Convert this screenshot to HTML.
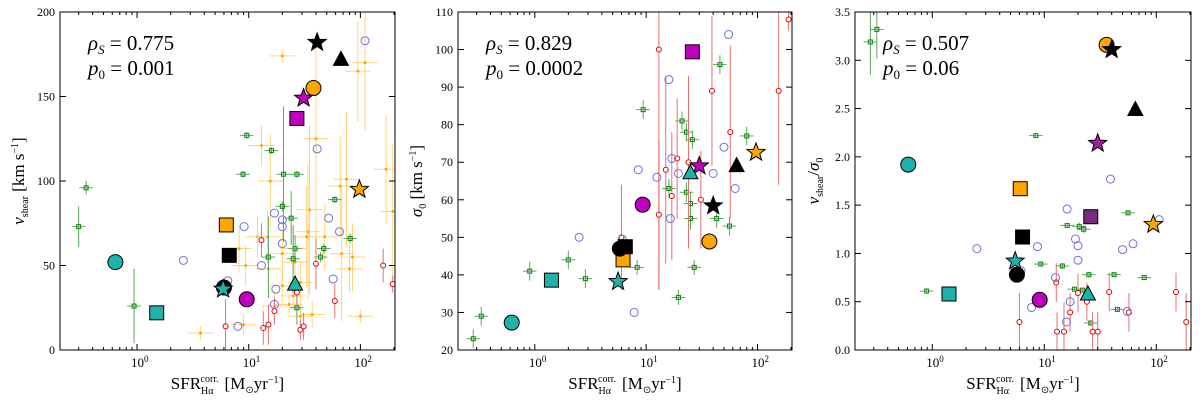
<!DOCTYPE html>
<html><head><meta charset="utf-8"><style>
body{margin:0;background:#fff;width:1200px;height:404px;overflow:hidden}
svg{display:block}
text{font-family:"Liberation Serif",serif;fill:#000}
</style></head><body>
<svg id="chart" width="1200" height="404" viewBox="0 0 1200 404" xmlns="http://www.w3.org/2000/svg"></svg>
<script>
// ---------- DATA ----------
// panel 1: v_shear
const p1Blue=[[110,183],[41,119],[17,81],[20,77],[20,73],[52,78],[65,70],[9.1,73],[2.6,53],[20,63],[13,50],[6.5,41],[57,42],[17.5,36],[17,27],[8,14]];
const p1Red=[[13,65,10],[40,51,15],[160,50,10],[195,39,5],[59,29,10],[17,23,8],[15,15,12],[13.5,13,10],[6.2,14,16],[29,12,6],[31,14,8],[27,34,8]];
const p1Green=[[0.30,73,12],[0.35,96,4],[0.94,26,22],[9.6,127,2],[8.9,104,2],[27,104,2],[16,118,2],[20.5,104,40],[20,85,3],[24,78,16],[15,55,24],[26,60,8],[25,54,20],[44,55,3],[47,60,3],[59,89,2],[81,66,3],[27,25,10]];
const p1Orange=[[20,174,4],[95,165,30],[110,170,40],[40,125,60],[13,121,12],[15.6,100,28],[66,97,30],[75,101,40],[35,83,50],[34,70,40],[33,67,30],[48,67,20],[68,57,40],[85,55,20],[80,48,14],[9.4,50,12],[8.2,60,14],[12,67,12],[14.8,67,16],[15,48,18],[20,57,14],[25,60,12],[26,52,10],[29,40,12],[20,38,10],[25,32,8],[17,26,8],[23,27,6],[29,20,8],[37,21,8],[100,20,4],[3.7,10,4],[9,15,6],[170,107,32],[195,82,40]];
const p1Big=[["star","#000",41,182],["tri","#000",67,172],["circ","#ffa500",38,155],["star","#c000c0",31,149],["sq","#c000c0",27,137],["sq","#ffa500",6.3,74],["sq","#000",6.7,56],["circ","#20b2aa",0.64,52],["sq","#20b2aa",1.5,22],["circ","#000",6.0,37],["star","#20b2aa",5.9,36],["circ","#c000c0",9.6,30],["tri","#20b2aa",26,39],["star","#ffa500",98,95]];
const p1Ticks=[0,50,100,150,200];
// panel 2: sigma_0
const p2Blue=[[55,104],[16,92],[17,71],[50,74],[8.5,68],[12.5,66],[19.5,67],[40,67],[63,63],[16.5,55],[2.5,50],[6.1,49.5],[7.8,30]];
const p2Red=[[13,100,64],[13,56,20],[39,89,20],[57,78,23],[15,68,25],[19,71,16],[17,61,17],[31,60,13],[6,50,14],[155,89,25],[190,108,3],[24,70,23]];
const p2Green=[[9.4,84,2.5],[21,81,2.5],[23,78,2.5],[26,76,2.5],[46,96,2.5],[80,77,2.5],[16,63,2.5],[23,62,2.5],[25,59,3],[25,55,3],[43,55,2.5],[56,53,2.5],[8.3,42,2],[27,42,2],[19.5,34,2],[0.9,41,2.5],[2.0,44,2.5],[2.85,39,2.5],[0.33,29,2.5],[0.28,23,2.5]];
const p2Big=[["sq","#c000c0",26,99.4],["star","#ffa500",97,72.6],["tri","#000",65,69.1],["star","#c000c0",30,69],["tri","#20b2aa",25,67.2],["star","#000",40,58.4],["circ","#c000c0",9.3,58.7],["circ","#ffa500",37,48.9],["sq","#ffa500",6.2,44],["circ","#000",5.8,47],["sq","#000",6.5,47.5],["sq","#20b2aa",1.41,38.6],["star","#20b2aa",5.6,38.2],["circ","#20b2aa",0.62,27.3]];
const p2Ticks=[20,30,40,50,60,70,80,90,100,110];
// panel 3: ratio
const p3Blue=[[39,1.77],[16,1.46],[106,1.35],[19,1.15],[20,1.08],[8.7,1.07],[2.5,1.05],[50,1.04],[62,1.10],[20,0.93],[6.2,0.82],[12.6,0.75],[17,0.50],[7.7,0.44],[15.8,0.29],[55,0.40]];
const p3Red=[[12.8,0.70,0.2],[20,0.59,0.2],[38,0.60,0.2],[150,0.60,0.2],[17,0.39,0.2],[24,0.5,0.2],[57,0.39,0.2],[6,0.29,0.3],[185,0.29,0.3],[13,0.19,0.2],[15,0.19,0.3],[27,0.19,0.2],[30,0.19,0.2]];
const p3Green=[[0.28,3.19,0.34],[0.32,3.32,0.3],[8.4,2.22,0.02],[56,1.42,0.02],[16,1.29,0.02],[20.5,1.28,0.04],[22.5,1.25,0.04],[9.3,0.89,0.02],[14.5,0.87,0.03],[25,0.78,0.03],[42,0.78,0.02],[78,0.75,0.02],[18.6,0.63,0.02],[22,0.62,0.02],[45,0.42,0.02],[26,0.28,0.02],[0.89,0.61,0.03]];
const p3Big=[["circ","#ffa500",36,3.16],["star","#000",40,3.11],["tri","#000",65,2.49],["star","#a020a0",30,2.14],["circ","#20b2aa",0.61,1.92],["sq","#ffa500",6.1,1.67],["sq","#7a2a7a",26,1.38],["star","#ffa500",94,1.30],["sq","#000",6.4,1.17],["circ","#000",5.7,0.78],["star","#20b2aa",5.5,0.92],["sq","#20b2aa",1.41,0.58],["tri","#20b2aa",24.5,0.58],["circ","#c000c0",9.1,0.52]];
const p3Ticks=[0,0.5,1.0,1.5,2.0,2.5,3.0,3.5];
const xTickLabels=["0","1","2"];
const stats=[["0.775","0.001"],["0.829","0.0002"],["0.507","0.06"]];

// ---------- DRAW ----------
const svg=document.getElementById('chart');
const NS="http://www.w3.org/2000/svg";
function mk(tag,attrs,parent){const e=document.createElementNS(NS,tag);for(const k in attrs)e.setAttribute(k,attrs[k]);(parent||svg).appendChild(e);return e;}
const LX0=-0.69,LX1=2.31,TOP=12,BOT=350;
function makeAxes(left,right,ymin,ymax){
  return {X:v=>left+(Math.log10(v)-LX0)/(LX1-LX0)*(right-left),
          Y:v=>BOT-(v-ymin)/(ymax-ymin)*(BOT-TOP)};
}
function starPts(cx,cy,R){let p=[];for(let i=0;i<10;i++){const r=i%2?R*0.42:R;const a=-Math.PI/2+i*Math.PI/5;p.push((cx+r*Math.cos(a)).toFixed(1)+","+(cy+r*Math.sin(a)).toFixed(1));}return p.join(" ");}
function panel(idx,left,right,ymin,ymax,ticks,fmt,blue,red,green,orange,big,ylabel){
  const A=makeAxes(left,right,ymin,ymax);
  const g=mk('g',{});
  
  
  const clip=mk('clipPath',{id:'c'+idx},g);mk('rect',{x:left,y:TOP,width:right-left,height:BOT-TOP},clip);
  const pg=mk('g',{'clip-path':'url(#c'+idx+')'},g);
  (orange||[]).forEach(d=>{const x=A.X(d[0]),y=A.Y(d[1]);
    const e=mk('g',{},pg);
    
    
    mk('line',{x1:x,x2:x,y1:A.Y(d[1]-d[2]),y2:A.Y(d[1]+d[2]),stroke:'#ffcf70','stroke-width':0.9},e);
    mk('line',{x1:A.X(d[0]/1.3),x2:A.X(d[0]*1.3),y1:y,y2:y,stroke:'#ffcf70','stroke-width':0.9},e);
    mk('circle',{cx:x,cy:y,r:1.5,fill:'#ffa500'},e);});
  green.forEach(d=>{const x=A.X(d[0]),y=A.Y(d[1]);
    const e=mk('g',{},pg);
    
    
    mk('line',{x1:x,x2:x,y1:A.Y(d[1]-d[2]),y2:A.Y(d[1]+d[2]),stroke:'#5aa85a','stroke-width':1},e);
    mk('line',{x1:A.X(d[0]/1.15),x2:A.X(d[0]*1.15),y1:y,y2:y,stroke:'#5aa85a','stroke-width':1},e);
    mk('rect',{x:x-2,y:y-2,width:4,height:4,fill:'none',stroke:'#108010','stroke-width':1},e);});
  red.forEach(d=>{const x=A.X(d[0]),y=A.Y(d[1]);
    const e=mk('g',{},pg);
    
    
    mk('line',{x1:x,x2:x,y1:A.Y(d[1]-d[2]),y2:A.Y(d[1]+d[2]),stroke:'#e87070','stroke-width':1},e);
    mk('circle',{cx:x,cy:y,r:2.5,fill:'#fff',stroke:'#e00000','stroke-width':1},e);});
  blue.forEach(d=>{const c=mk('circle',{cx:A.X(d[0]),cy:A.Y(d[1]),r:4,fill:'none',stroke:'#7070e0','stroke-width':1},pg);
    
    });
  big.forEach(d=>{const x=A.X(d[2]),y=A.Y(d[3]);let e;
    const at={fill:d[1],stroke:'#000','stroke-width':1};
    if(d[0]=='circ')e=mk('circle',Object.assign({cx:x,cy:y,r:7.5},at),pg);
    else if(d[0]=='sq')e=mk('rect',Object.assign({x:x-7,y:y-7,width:14,height:14},at),pg);
    else if(d[0]=='tri')e=mk('polygon',Object.assign({points:`${x},${y-8} ${x+7.5},${y+6} ${x-7.5},${y+6}`},at),pg);
    else e=mk('polygon',Object.assign({points:starPts(x,y,9.5)},at),pg);
    
    });
  const fr=mk('rect',{x:left,y:TOP,width:right-left,height:BOT-TOP,fill:'none',stroke:'#000','stroke-width':1},g);
  
  
  ticks.forEach(t=>{const y=A.Y(t);
    mk('line',{x1:left,x2:left+6,y1:y,y2:y,stroke:'#000'},g);
    mk('line',{x1:right,x2:right-6,y1:y,y2:y,stroke:'#000'},g);
    const tx=mk('text',{x:left-5,y:y+4,'text-anchor':'end','font-size':12},g);
    
    
    tx.textContent=fmt(t);});
  for(let dec=-1;dec<=2;dec++){for(let m=1;m<10;m++){const v=m*Math.pow(10,dec);const lv=Math.log10(v);if(lv<LX0||lv>LX1)continue;
    const x=A.X(v),len=m==1?6:3;
    mk('line',{x1:x,x2:x,y1:BOT,y2:BOT-len,stroke:'#000'},g);
    mk('line',{x1:x,x2:x,y1:TOP,y2:TOP+len,stroke:'#000'},g);
    if(m==1&&dec>=0){const tx=mk('text',{x:x-6,y:BOT+17,'font-size':13},g);
      
      
      tx.innerHTML='10<tspan dy="-5" font-size="9">'+xTickLabels[dec]+'</tspan>';}}}
  const xl=mk('text',{x:(left+right)/2,y:389,'text-anchor':'middle','font-size':17},g);
  
  
  xl.innerHTML='SFR<tspan font-size="10" dy="5">Hα</tspan><tspan font-size="10" dx="-13" dy="-12">corr.</tspan><tspan dy="7" dx="6">[M</tspan><tspan font-size="10" dy="4">⊙</tspan><tspan dy="-4">yr</tspan><tspan font-size="10" dy="-6">−1</tspan><tspan dy="6">]</tspan>';
  const yl=mk('text',{x:0,y:0,'text-anchor':'middle','font-size':17,transform:`translate(${left-36},${(TOP+BOT)/2}) rotate(-90)`},g);
  
  
  yl.innerHTML=ylabel;
  const s1=mk('text',{x:left+28,y:50,'font-size':21},g);
  
  
  s1.innerHTML='<tspan font-style="italic">ρ</tspan><tspan font-size="13" dy="4" font-style="italic">S</tspan><tspan dy="-4"> = '+stats[idx][0]+'</tspan>';
  const s2=mk('text',{x:left+28,y:75,'font-size':21},g);
  
  
  s2.innerHTML='<tspan font-style="italic">p</tspan><tspan font-size="13" dy="4">0</tspan><tspan dy="-4"> = '+stats[idx][1]+'</tspan>';
}
panel(0,60,395,0,200,p1Ticks,t=>String(t),p1Blue,p1Red,p1Green,p1Orange,p1Big,'<tspan font-style="italic">v</tspan><tspan font-size="10" dy="4">shear</tspan><tspan dy="-4"> [km s</tspan><tspan font-size="10" dy="-6">−1</tspan><tspan dy="6">]</tspan>');
panel(1,458,792,20,110,p2Ticks,t=>String(t),p2Blue,p2Red,p2Green,null,p2Big,'<tspan font-style="italic">σ</tspan><tspan font-size="10" dy="4">0</tspan><tspan dy="-4"> [km s</tspan><tspan font-size="10" dy="-6">−1</tspan><tspan dy="6">]</tspan>');
panel(2,855,1191,0,3.5,p3Ticks,t=>t.toFixed(1),p3Blue,p3Red,p3Green,null,p3Big,'<tspan font-style="italic">v</tspan><tspan font-size="10" dy="4">shear</tspan><tspan dy="-4">/</tspan><tspan font-style="italic">σ</tspan><tspan font-size="10" dy="4">0</tspan>');
</script>
</body></html>
